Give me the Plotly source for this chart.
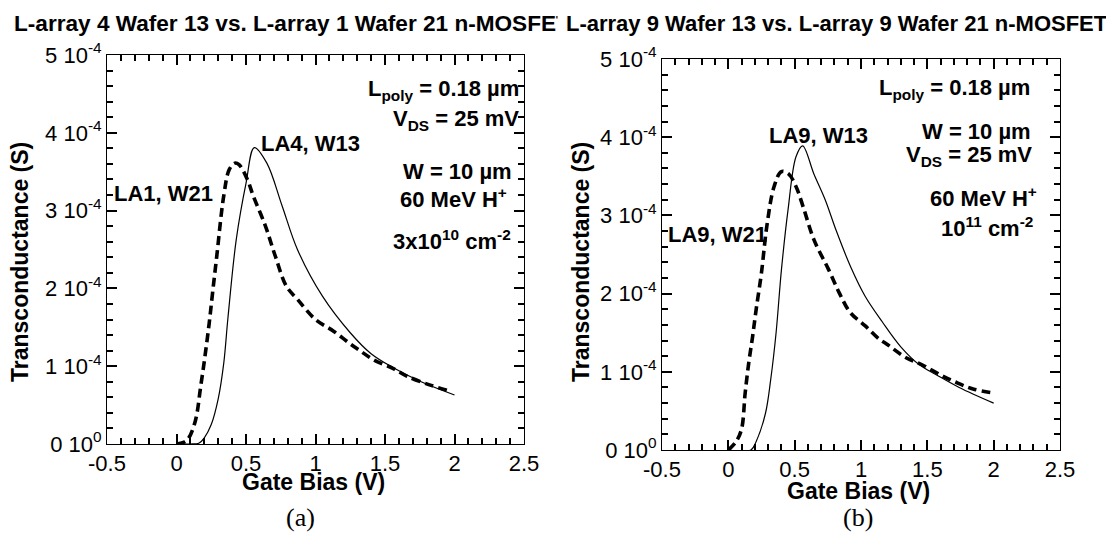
import plotly.graph_objects as go

# ---- panel (a): L-array 4 Wafer 13 vs. L-array 1 Wafer 21 ----
# gate bias (V) and transconductance (units of 1e-4 S)
a_w13_v = [0.0, 0.10, 0.16, 0.20, 0.25, 0.30, 0.34, 0.37, 0.43, 0.50, 0.56,
           0.65, 0.76, 0.87, 1.05, 1.25, 1.40, 1.56, 1.76, 2.0]
a_w13_g = [0.0, 0.0, 0.01, 0.08, 0.25, 0.58, 1.04, 1.62, 2.63, 3.35, 3.81,
           3.61, 3.06, 2.50, 1.90, 1.43, 1.16, 0.98, 0.80, 0.63]

a_w21_v = [0.0, 0.05, 0.085, 0.136, 0.174, 0.205, 0.235, 0.26, 0.29, 0.34, 0.38,
           0.42, 0.45, 0.51, 0.55, 0.64, 0.71, 0.79, 0.87, 1.0, 1.13, 1.24, 1.32,
           1.42, 1.56, 1.66, 1.82, 1.95]
a_w21_g = [0.0, 0.02, 0.07, 0.30, 0.74, 1.13, 1.55, 1.95, 2.42, 3.19, 3.53,
           3.61, 3.59, 3.40, 3.20, 2.80, 2.42, 2.03, 1.86, 1.60, 1.45, 1.30, 1.20,
           1.08, 0.97, 0.87, 0.76, 0.69]

# ---- panel (b): L-array 9 Wafer 13 vs. L-array 9 Wafer 21 ----
b_w13_v = [0.0, 0.17, 0.21, 0.28, 0.32, 0.36, 0.40, 0.45, 0.51, 0.56, 0.645,
           0.73, 0.81, 0.92, 1.03, 1.16, 1.30, 1.44, 1.57, 1.74, 2.0]
b_w13_g = [0.0, 0.0, 0.11, 0.47, 0.91, 1.50, 2.30, 3.07, 3.75, 3.89, 3.53,
           3.20, 2.82, 2.35, 1.97, 1.64, 1.32, 1.09, 0.96, 0.80, 0.60]

b_w21_v = [0.0, 0.06, 0.10, 0.127, 0.155, 0.182, 0.21, 0.25, 0.29, 0.345, 0.40,
           0.454, 0.51, 0.564, 0.645, 0.755, 0.836, 0.918, 1.03, 1.136, 1.19, 1.34,
           1.46, 1.60, 1.71, 1.845, 2.0]
b_w21_g = [0.0, 0.11, 0.27, 0.73, 1.13, 1.44, 1.80, 2.27, 2.86, 3.37, 3.56,
           3.53, 3.37, 3.11, 2.69, 2.31, 2.01, 1.76, 1.59, 1.42, 1.36, 1.18,
           1.09, 0.96, 0.87, 0.78, 0.73]

# tick labels: default label text -> text drawn on the axis
x_tick_labels = {"\u22120.5": "-0.5", "-0.5": "-0.5"}
y_tick_labels = {"0": "0 10<sup>0</sup>", "1": "1 10<sup>-4</sup>",
                 "2": "2 10<sup>-4</sup>", "3": "3 10<sup>-4</sup>",
                 "4": "4 10<sup>-4</sup>", "5": "5 10<sup>-4</sup>"}

W, H = 1106, 552
SANS = "Liberation Sans, Arial, Helvetica, sans-serif"
SERIF = "Liberation Serif, Times New Roman, serif"
NOGRID = "rgba(0,0,0,0)"

solid = dict(color="black", width=1.2)
dashed = dict(color="black", width=3.6, dash="9px,5px")

fig = go.Figure()
fig.add_trace(go.Scatter(x=a_w13_v, y=a_w13_g, mode="lines", line=solid,
                         line_shape="spline", xaxis="x", yaxis="y"))
fig.add_trace(go.Scatter(x=a_w21_v, y=a_w21_g, mode="lines", line=dashed,
                         line_shape="spline", xaxis="x", yaxis="y"))
fig.add_trace(go.Scatter(x=b_w13_v, y=b_w13_g, mode="lines", line=solid,
                         line_shape="spline", xaxis="x2", yaxis="y2"))
fig.add_trace(go.Scatter(x=b_w21_v, y=b_w21_g, mode="lines", line=dashed,
                         line_shape="spline", xaxis="x2", yaxis="y2"))


def xax(domain, anchor):
    return dict(domain=domain, anchor=anchor, range=[-0.5, 2.5],
                tickmode="linear", tick0=0, dtick=0.5, labelalias=x_tick_labels,
                ticks="inside", ticklen=10, tickwidth=2, tickcolor="black",
                minor=dict(tick0=0, dtick=0.1, ticks="inside", ticklen=6,
                           tickwidth=1.5, tickcolor="black", gridcolor=NOGRID),
                showline=True, linecolor="black", linewidth=1,
                mirror="allticks", showgrid=True, gridcolor=NOGRID,
                zeroline=False,
                tickfont=dict(family=SANS, size=22, color="black"))


def yax(domain, anchor):
    return dict(domain=domain, anchor=anchor, range=[0, 5],
                tickmode="linear", tick0=0, dtick=1, labelalias=y_tick_labels,
                ticks="inside", ticklen=10, tickwidth=2, tickcolor="black",
                minor=dict(tick0=0, dtick=0.2, ticks="inside", ticklen=6,
                           tickwidth=1.5, tickcolor="black", gridcolor=NOGRID),
                showline=True, linecolor="black", linewidth=1,
                mirror="allticks", showgrid=True, gridcolor=NOGRID,
                zeroline=False,
                tickfont=dict(family=SANS, size=22, color="black"))


fig.update_layout(
    template="none",
    width=W, height=H, margin=dict(l=0, r=0, t=0, b=0),
    paper_bgcolor="white", plot_bgcolor="white", showlegend=False,
    xaxis=xax([107 / W, 524 / W], "y"),
    yaxis=yax([1 - 444 / H, 1 - 55 / H], "x"),
    xaxis2=xax([662 / W, 1060 / W], "y2"),
    yaxis2=yax([1 - 450 / H, 1 - 59 / H], "x2"),
)


def note(text, x, y, xref, yref, size=22, bold=True, xanchor="center",
         yanchor="middle", family=SANS, textangle=0, bg=None, pad=0):
    fig.add_annotation(
        text=f"<b>{text}</b>" if bold else text, x=x, y=y, xref=xref, yref=yref,
        showarrow=False, xanchor=xanchor, yanchor=yanchor, textangle=textangle,
        font=dict(family=family, size=size, color="black"),
        bgcolor=bg, borderpad=pad)


# panel titles (the right one is drawn over the end of the left one)
note("L-array 4 Wafer 13 vs. L-array 1 Wafer 21 n-MOSFET", 13 / W, 1 - 24 / H,
     "paper", "paper", size=22.6, xanchor="left")
note("L-array 9 Wafer 13 vs. L-array 9 Wafer 21 n-MOSFET", 557 / W, 1 - 24 / H,
     "paper", "paper", size=22, xanchor="left", bg="white", pad=8)

# axis titles
for xc, yc in [(20, 262), (581, 262)]:
    note("Transconductance (S)", xc / W, 1 - yc / H, "paper", "paper",
         size=23, textangle=-90)
note("Gate Bias (V)", 313 / W, 1 - 482 / H, "paper", "paper", size=23)
note("Gate Bias (V)", 858 / W, 1 - 491 / H, "paper", "paper", size=23)

# sub-figure captions
note("(a)", 300 / W, 1 - 517 / H, "paper", "paper", size=26, bold=False,
     family=SERIF)
note("(b)", 858 / W, 1 - 517 / H, "paper", "paper", size=26, bold=False,
     family=SERIF)

# panel (a) annotations
note("L<sub>poly</sub> = 0.18 µm", 2.47, 4.55, "x", "y", xanchor="right")
note("V<sub>DS</sub> = 25 mV", 2.47, 4.17, "x", "y", xanchor="right")
note("W = 10 µm", 2.02, 3.50, "x", "y")
note("60 MeV H<sup>+</sup>", 1.99, 3.16, "x", "y")
note("3x10<sup>10</sup> cm<sup>-2</sup>", 1.98, 2.62, "x", "y")
note("LA4, W13", 0.60, 3.86, "x", "y", xanchor="left")
note("LA1, W21", -0.46, 3.22, "x", "y", xanchor="left")

# panel (b) annotations
note("L<sub>poly</sub> = 0.18 µm", 2.28, 4.62, "x2", "y2", xanchor="right")
note("W = 10 µm", 2.29, 4.07, "x2", "y2", xanchor="right")
note("V<sub>DS</sub> = 25 mV", 2.30, 3.76, "x2", "y2", xanchor="right")
note("60 MeV H<sup>+</sup>", 1.92, 3.24, "x2", "y2")
note("10<sup>11</sup> cm<sup>-2</sup>", 1.95, 2.85, "x2", "y2")
note("LA9, W13", 0.30, 4.02, "x2", "y2", xanchor="left")
note("LA9, W21", -0.46, 2.76, "x2", "y2", xanchor="left")

fig.write_html("out.html")
